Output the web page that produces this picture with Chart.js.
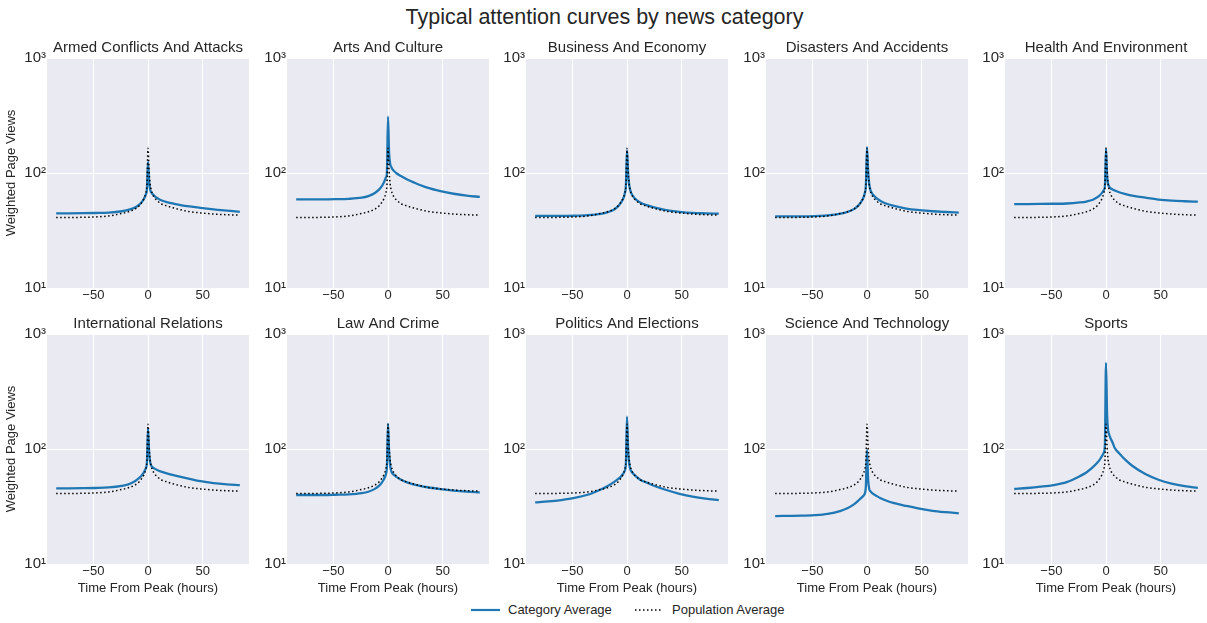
<!DOCTYPE html>
<html>
<head>
<meta charset="utf-8">
<title>Typical attention curves by news category</title>
<script src="https://cdn.jsdelivr.net/npm/chart.js@4.4.1/dist/chart.umd.min.js"></script>
<style>
  body { margin: 0; background: #fff; font-family: "Liberation Sans", Arial, sans-serif; color: #262626; }
  #page { position: relative; width: 1207px; height: 623px; overflow: hidden; }
  #main-title { position: absolute; left: 0; top: 3px; width: 1209px; text-align: center; font-size: 21.5px; line-height: 28px; }
  #page canvas { position: absolute; }
  .legend-item { position: absolute; top: 602px; font-size: 13px; line-height: 16px; white-space: nowrap; }
  .legend-line { position: absolute; top: 604px; }
</style>
</head>
<body>
<div id="page">
  <div id="main-title">Typical attention curves by news category</div>

  <svg class="legend-line" style="left:471px" width="30" height="12">
    <line x1="0" y1="6" x2="29" y2="6" stroke="#1f77b4" stroke-width="2.2"></line>
  </svg>
  <div class="legend-item" style="left:508px">Category Average</div>
  <svg class="legend-line" style="left:635px" width="30" height="12">
    <line x1="0" y1="6" x2="27" y2="6" stroke="#000" stroke-width="1.5" stroke-dasharray="1.5 2.5"></line>
  </svg>
  <div class="legend-item" style="left:672px">Population Average</div>
</div>

<script>
// hours relative to the peak, shared by every curve
const hours = [-84, -72, -60, -48, -36, -24, -18, -12, -8, -6, -4, -3, -2, -1, 0, 1, 2, 3, 4, 6, 8, 12, 18, 24, 36, 48, 60, 72, 84];

// black dotted curve, same in every panel
const populationAverage = [41, 41, 41.2, 41.5, 42.3, 44.5, 46, 48.5, 52, 55, 59, 62, 67, 78, 164, 105, 80, 71, 66, 61, 58, 54, 51.5, 49.5, 46.5, 45, 44, 43.4, 43];

// blue curves, one per category
const armedConflicts = [44.6, 44.6, 44.7, 44.9, 45.3, 46.5, 47.8, 50, 53, 55.5, 59, 61.5, 65, 72, 125, 85, 72, 68, 66, 63, 61, 58, 55.5, 54, 51.5, 49.8, 48.3, 47, 46];
const artsCulture = [59, 59, 59, 59.2, 59.6, 61, 63, 67, 72, 76, 82, 86, 91, 100, 309, 150, 120, 113, 108, 103, 99, 94, 87.5, 82.5, 74.5, 69.5, 66, 63.5, 62];
const businessEconomy = [42.3, 42.3, 42.3, 42.5, 43, 44.2, 45.5, 48, 51.5, 54.5, 58.5, 61.5, 66.5, 78, 158, 100, 79, 71, 66.5, 62, 59, 55.5, 52.5, 50.5, 47.5, 46, 45, 44.6, 44.3];
const disastersAccidents = [42, 42, 42, 42.2, 42.8, 44.3, 45.8, 48.5, 52, 55, 59, 62, 67, 79, 168, 105, 81, 72, 68, 64, 61, 57.5, 54, 52, 49, 47.5, 46.5, 45.8, 45.2];
const healthEnvironment = [53.7, 53.7, 53.8, 54, 54.3, 55.5, 56.5, 58.5, 61.5, 63.5, 66.5, 68.5, 71, 76, 164, 95, 80, 76, 74, 72, 70.5, 68, 65.5, 63.5, 61, 58.8, 57.5, 56.8, 56.3];
const internationalRelations = [45.5, 45.5, 45.6, 45.8, 46.3, 47.8, 49.3, 52.5, 56, 58.5, 62, 65, 68, 76, 151, 95, 77, 71.5, 69.5, 67.5, 66, 63.5, 61, 59, 55.5, 52.5, 50.5, 49.3, 48.6];
const lawCrime = [39.8, 39.8, 39.8, 40, 40.3, 41.3, 42.5, 45, 48, 50.5, 54, 56.5, 60, 70, 165, 95, 72, 64, 61.5, 59, 57, 54, 51, 49, 46.5, 44.8, 43.5, 42.6, 42];
const politicsElections = [34.4, 35, 36, 37.5, 40, 44.5, 47.5, 51.5, 55, 57, 60, 62, 65, 75, 191, 100, 75, 67, 64, 60.5, 58, 54, 51, 48.2, 44, 40.8, 38.5, 37, 36];
const scienceTechnology = [26.1, 26.2, 26.3, 26.6, 27.3, 29, 30.5, 33, 35.5, 37, 38.5, 39.5, 41, 48, 98, 55, 45, 43, 42, 40.5, 39.5, 37.5, 35.5, 34, 32, 30.3, 29, 28.2, 27.6];
const sports = [44.9, 45.8, 47, 48.6, 51.5, 58, 62.5, 69.5, 76, 80, 86, 89, 93, 110, 562, 200, 145, 133, 125, 114, 102, 92, 80, 71.5, 60.5, 54, 50, 47.5, 46];

const categories = ['Armed Conflicts And Attacks', 'Arts And Culture', 'Business And Economy', 'Disasters And Accidents', 'Health And Environment',
                    'International Relations', 'Law And Crime', 'Politics And Elections', 'Science And Technology', 'Sports'];
const categoryAverages = [armedConflicts, artsCulture, businessEconomy, disastersAccidents, healthEnvironment,
                          internationalRelations, lawCrime, politicsElections, scienceTechnology, sports];

const xTickValues = [-50, 0, 50];
const xTickLabels = ['\u221250', '0', '50'];
const yTickValues = [10, 100, 1000];
const yTickLabels = ['10\u00b9', '10\u00b2', '10\u00b3'];

const BLUE = '#1f77b4';
const PANEL_BG = '#eaeaf2';
const TEXT = '#262626';
const FONT = '"Liberation Sans", Arial, sans-serif';

// panel geometry, in page pixels
const plotW = 202, plotH = 230;
const colLeft = [47, 287, 526, 766, 1005];
const rowTop = [58, 334];
const titleH = 23;

Chart.defaults.font.family = FONT;
Chart.defaults.color = TEXT;

// fill the axes area like the seaborn darkgrid style
const panelBackground = {
  id: 'panelBackground',
  beforeDraw(chart) {
    const { ctx, chartArea } = chart;
    ctx.save();
    ctx.fillStyle = PANEL_BG;
    ctx.fillRect(chartArea.left, chartArea.top, chartArea.width, chartArea.height);
    ctx.restore();
  }
};

const page = document.getElementById('page');

categories.forEach((name, i) => {
  const row = Math.floor(i / 5);
  const col = i % 5;
  const yW = col === 0 ? 47 : 26;
  const xH = row === 1 ? 34 : 22;

  const canvas = document.createElement('canvas');
  canvas.width = yW + plotW;
  canvas.height = titleH + plotH + xH;
  canvas.style.left = (colLeft[col] - yW) + 'px';
  canvas.style.top = (rowTop[row] - titleH) + 'px';
  page.appendChild(canvas);

  new Chart(canvas, {
    type: 'line',
    data: {
      datasets: [
        {
          label: 'Category Average',
          data: hours.map((h, k) => ({ x: h, y: categoryAverages[i][k] })),
          borderColor: BLUE,
          borderWidth: 2.3,
          pointRadius: 0,
          cubicInterpolationMode: 'monotone',
          order: 1
        },
        {
          label: 'Population Average',
          data: hours.map((h, k) => ({ x: h, y: populationAverage[k] })),
          borderColor: '#000',
          borderWidth: 1.5,
          borderDash: [1.5, 2.5],
          pointRadius: 0,
          cubicInterpolationMode: 'monotone',
          order: 0
        }
      ]
    },
    options: {
      responsive: false,
      animation: false,
      events: [],
      layout: { padding: 0 },
      plugins: {
        legend: { display: false },
        tooltip: { enabled: false },
        title: {
          display: true,
          text: name,
          fullSize: false,
          color: TEXT,
          font: { size: 15, weight: 'normal' },
          padding: { top: 4, bottom: 1 }
        }
      },
      scales: {
        x: {
          type: 'linear',
          min: -92.4,
          max: 92.4,
          afterBuildTicks: (s) => { s.ticks = xTickValues.map(v => ({ value: v })); },
          afterFit: (s) => { s.height = xH; },
          ticks: {
            callback: (v) => xTickLabels[xTickValues.indexOf(v)],
            padding: 0,
            maxRotation: 0,
            autoSkip: false,
            color: TEXT,
            font: { size: 13 }
          },
          grid: { color: '#ffffff', lineWidth: 1, drawTicks: false },
          border: { display: false },
          title: {
            display: row === 1,
            text: 'Time From Peak (hours)',
            color: TEXT,
            font: { size: 13 },
            padding: { top: 0, bottom: 2 }
          }
        },
        y: {
          type: 'logarithmic',
          min: 10,
          max: 1000,
          afterBuildTicks: (s) => { s.ticks = yTickValues.map(v => ({ value: v })); },
          afterFit: (s) => { s.width = yW; },
          ticks: {
            callback: (v) => yTickLabels[yTickValues.indexOf(v)],
            padding: 1,
            autoSkip: false,
            color: TEXT,
            font: { size: 15 }
          },
          grid: { color: '#ffffff', lineWidth: 1, drawTicks: false },
          border: { display: false },
          title: {
            display: col === 0,
            text: 'Weighted Page Views',
            color: TEXT,
            font: { size: 13 },
            padding: { top: 4, bottom: 0 }
          }
        }
      }
    },
    plugins: [panelBackground]
  });
});
</script>
</body>
</html>
